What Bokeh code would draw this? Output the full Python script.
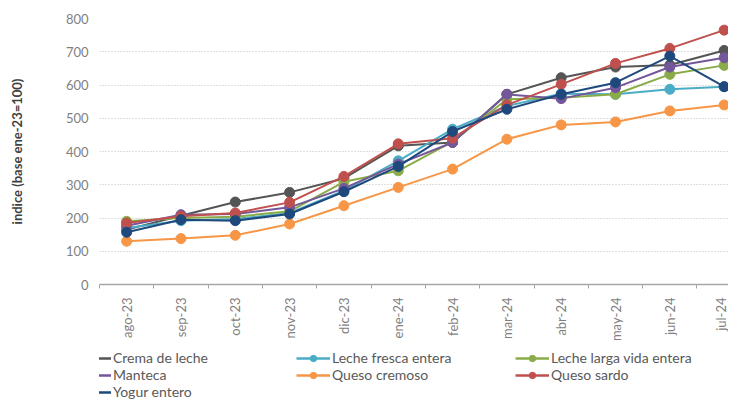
import math
from bokeh.plotting import figure
from bokeh.layouts import column
from bokeh.models import FixedTicker, Legend, LegendItem, Range1d
from bokeh.embed import file_html
from bokeh.resources import INLINE

months = ["ago-23", "sep-23", "oct-23", "nov-23", "dic-23", "ene-24",
          "feb-24", "mar-24", "abr-24", "may-24", "jun-24", "jul-24"]

crema_de_leche = [165, 207, 248, 277, 319, 417, 427, 572, 622, 654, 660, 704]
leche_fresca_entera = [170, 192, 197, 215, 282, 372, 467, 537, 574, 572, 587, 595]
leche_larga_vida = [190, 200, 204, 220, 309, 342, 430, 557, 562, 572, 632, 659]
manteca = [177, 210, 212, 232, 289, 362, 427, 572, 559, 592, 654, 682]
queso_cremoso = [130, 138, 148, 182, 237, 292, 347, 437, 480, 489, 522, 540]
queso_sardo = [185, 205, 215, 247, 325, 423, 440, 540, 602, 665, 710, 765]
yogur_entero = [157, 195, 192, 212, 279, 355, 460, 527, 572, 607, 687, 595]

series_names = ["Crema de leche", "Leche fresca entera", "Leche larga vida entera",
                "Manteca", "Queso cremoso", "Queso sardo", "Yogur entero"]
series_values = [crema_de_leche, leche_fresca_entera, leche_larga_vida,
                 manteca, queso_cremoso, queso_sardo, yogur_entero]
series_colors = ["#555555", "#4bacc6", "#8aac48", "#74569a", "#f79646", "#c0504d", "#1f497d"]

y_ticks = [0, 100, 200, 300, 400, 500, 600, 700, 800]

FONT = "Lato"
TICK_TXT = "#7f7f7f"
LEG_TXT = "#595959"

x = [i + 0.5 for i in range(len(months))]

# ---------- main chart ----------
p = figure(width=728, height=344, output_backend="svg", toolbar_location=None,
           x_range=Range1d(0, 11.58), y_range=Range1d(0, 800),
           min_border_left=99, min_border_top=18, min_border_right=0,
           min_border_bottom=60)
p.outline_line_color = None
p.background_fill_color = "white"

for name, vals, col in zip(series_names, series_values, series_colors):
    p.line(x, vals, line_color=col, line_width=2)
    p.scatter(x, vals, size=10, fill_color=col, line_color=col)

xa = p.xaxis[0]
xa.ticker = FixedTicker(ticks=x, minor_ticks=list(range(len(months) + 1)))
xa.major_label_overrides = {xi: m for xi, m in zip(x, months)}
xa.major_label_orientation = math.pi / 2
xa.major_tick_line_color = None
xa.major_tick_out = 0
xa.major_tick_in = 0
xa.minor_tick_line_color = "#a6a6a6"
xa.minor_tick_out = 4
xa.minor_tick_in = 0
xa.axis_line_color = "#a6a6a6"
xa.axis_line_width = 1.5
xa.major_label_standoff = 9
xa.major_label_text_font = FONT
xa.major_label_text_font_size = "13px"
xa.major_label_text_color = TICK_TXT
p.xgrid.grid_line_color = None

ya = p.yaxis[0]
ya.ticker = FixedTicker(ticks=y_ticks)
ya.axis_line_color = None
ya.major_tick_line_color = None
ya.minor_tick_line_color = None
ya.major_tick_out = 0
ya.major_label_standoff = 11
ya.major_label_text_font = FONT
ya.major_label_text_font_size = "13px"
ya.major_label_text_color = TICK_TXT
ya.axis_label = "indice (base ene-23=100)"
ya.axis_label_text_font = FONT
ya.axis_label_text_font_style = "bold"
ya.axis_label_text_font_size = "13px"
ya.axis_label_text_color = "#404040"
ya.axis_label_standoff = 38
p.ygrid.grid_line_color = "#bfbfbf"
p.ygrid.grid_line_dash = "1 2"
p.ygrid.grid_line_width = 1

# ---------- legend strip (its renderers lie outside its view) ----------
lg = figure(width=728, height=56, output_backend="svg", toolbar_location=None,
            x_range=Range1d(0, 1), y_range=Range1d(-1, 0),
            min_border_left=99, min_border_right=0, min_border_top=0,
            min_border_bottom=0)
lg.axis.visible = False
lg.grid.visible = False
lg.outline_line_color = None

items = []
for name, vals, col in zip(series_names, series_values, series_colors):
    ln = lg.line(x, vals, line_color=col, line_width=2.5)
    sc = lg.scatter(x, vals, size=7, fill_color=col, line_color=col)
    items.append(LegendItem(label=name, renderers=[ln, sc]))

legend = Legend(items=items, orientation="horizontal", ncols=3,
                location=(-22, 0), padding=0, margin=0, spacing=0,
                glyph_width=34, glyph_height=16, label_height=16,
                label_width=183, label_standoff=2,
                label_text_font=FONT, label_text_font_size="14px",
                label_text_color=LEG_TXT, border_line_color=None,
                background_fill_alpha=0)
lg.add_layout(legend)

layout = column(p, lg, spacing=0)
open("out.html", "w").write(file_html(layout, INLINE))
